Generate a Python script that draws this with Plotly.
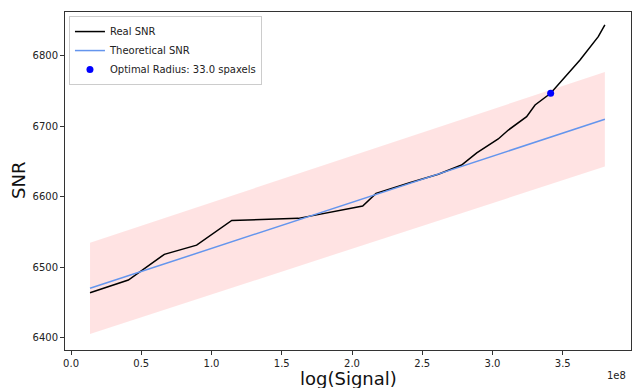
import plotly.graph_objects as go

# ---- data ----
signal = [0.135e8, 0.408e8, 0.664e8, 0.894e8, 1.144e8, 1.618e8, 2.076e8, 2.171e8,
          2.41e8, 2.614e8, 2.78e8, 2.888e8, 3.041e8, 3.113e8, 3.243e8, 3.303e8,
          3.414e8, 3.528e8, 3.587e8, 3.623e8, 3.753e8, 3.789e8, 3.80e8]
real_snr = [6463.5, 6481.6, 6518.0, 6531.0, 6566.0, 6569.0, 6586.5, 6604.5,
            6619.6, 6631.5, 6644.7, 6662.0, 6681.6, 6694.3, 6713.2, 6729.8,
            6746.4, 6772.3, 6786.5, 6793.6, 6826.7, 6838.6, 6843.3]

theory_x = [0.135e8, 3.80e8]
theory_snr = [6469.8, 6709.5]
band_upper = [6534.5, 6776.6]
band_lower = [6405.1, 6642.4]

optimal_x = [3.414e8]
optimal_snr = [6746.4]
optimal_label = "Optimal Radius: 33.0 spaxels"

x_ticks = [0, 0.5e8, 1.0e8, 1.5e8, 2.0e8, 2.5e8, 3.0e8, 3.5e8]
x_tick_text = ["0.0", "0.5", "1.0", "1.5", "2.0", "2.5", "3.0", "3.5"]
y_ticks = [6400, 6500, 6600, 6700, 6800]

FONT = "DejaVu Sans"

fig = go.Figure()
fig.add_trace(go.Scatter(x=theory_x, y=band_lower, mode="lines",
                         line=dict(width=0, color="rgba(255,0,0,0)"),
                         showlegend=False, hoverinfo="skip"))
fig.add_trace(go.Scatter(x=theory_x, y=band_upper, mode="lines",
                         line=dict(width=0, color="rgba(255,0,0,0)"),
                         fill="tonexty", fillcolor="rgba(255,0,0,0.11)",
                         showlegend=False, hoverinfo="skip"))
fig.add_trace(go.Scatter(x=signal, y=real_snr, mode="lines",
                         line=dict(color="black", width=1.5),
                         name="Real SNR"))
fig.add_trace(go.Scatter(x=theory_x, y=theory_snr, mode="lines",
                         line=dict(color="#6495ED", width=1.5),
                         name="Theoretical SNR"))
fig.add_trace(go.Scatter(x=optimal_x, y=optimal_snr, mode="markers",
                         marker=dict(color="blue", size=7),
                         name=optimal_label))

axis_common = dict(showgrid=False, zeroline=False, showline=True, mirror=True,
                   linecolor="#333333", linewidth=1, ticks="outside", ticklen=4,
                   tickwidth=1, tickcolor="#333333",
                   tickfont=dict(family=FONT, size=10, color="#222222"))

fig.update_layout(
    width=632, height=388,
    margin=dict(l=65, r=1, t=12, b=38),
    paper_bgcolor="white", plot_bgcolor="white",
    font=dict(family=FONT, size=10, color="#222222"),
    xaxis=dict(range=[-0.043e8, 3.986e8], tickvals=x_ticks, ticktext=x_tick_text,
               **axis_common),
    yaxis=dict(range=[6382.3, 6861.7], tickvals=y_ticks, **axis_common),
    legend=dict(x=0.007, y=0.988, xanchor="left", yanchor="top",
                traceorder="normal",
                bgcolor="rgba(255,255,255,0.8)", bordercolor="#cccccc", borderwidth=1,
                font=dict(family=FONT, size=10, color="#222222"),
                tracegroupgap=0, itemwidth=30),
    showlegend=True,
    annotations=[
        dict(text="log(Signal)", xref="paper", yref="paper", x=0.5, y=0,
             yshift=-28, xanchor="center", yanchor="middle", showarrow=False,
             font=dict(family=FONT, size=18, color="#111111")),
        dict(text="SNR", xref="paper", yref="paper", x=0, xshift=-47, y=0.5,
             xanchor="center", yanchor="middle", textangle=-90, showarrow=False,
             font=dict(family=FONT, size=18, color="#111111")),
        dict(text="1e8", xref="paper", yref="paper", x=1, xshift=-3, y=0, yshift=-25,
             xanchor="right", yanchor="middle", showarrow=False,
             font=dict(family=FONT, size=10, color="#222222")),
    ],
)

fig.write_html("out.html")
